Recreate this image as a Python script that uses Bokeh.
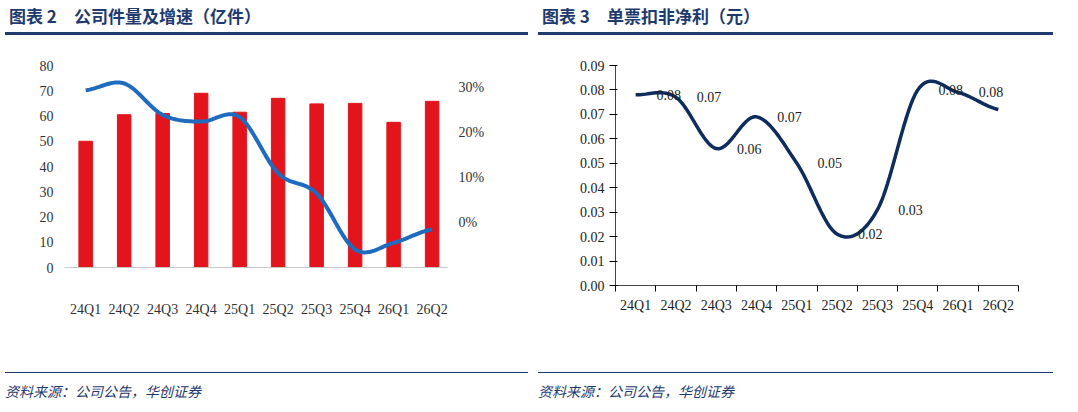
import numpy as np
from bokeh.plotting import figure
from bokeh.models import Range1d, LinearAxis, FixedTicker, Div, Legend, LegendItem, ColumnDataSource
from bokeh.layouts import row, column
from bokeh.embed import file_html
from bokeh.resources import INLINE

quarters = ["24Q1","24Q2","24Q3","24Q4","25Q1","25Q2","25Q3","25Q4","26Q1","26Q2"]
volume = [50, 60.5, 61, 69, 61.5, 67, 64.8, 65, 57.5, 65.8]
yoy = [29.5, 31, 24, 22.5, 23.5, 11, 6.5, -6, -4.5, -1.5]
profit = [0.078, 0.077, 0.056, 0.069, 0.050, 0.021, 0.031, 0.080, 0.079, 0.072]
profit_labels = ["0.08","0.07","0.06","0.07","0.05","0.02","0.03","0.08","0.08","0.07"]

SERIF = "Liberation Serif"
CJK = "Noto Sans CJK SC"
NAVY = "#1f3a6e"

def smooth(xs, ys, n=20):
    xs = np.asarray(xs, float); ys = np.asarray(ys, float)
    px = np.concatenate([[2*xs[0]-xs[1]], xs, [2*xs[-1]-xs[-2]]])
    py = np.concatenate([[ys[0]], ys, [ys[-1]]])
    ox, oy = [], []
    for i in range(1, len(px)-2):
        t = np.linspace(0, 1, n, endpoint=False)
        for arr, out in ((px, ox), (py, oy)):
            p0, p1, p2, p3 = arr[i-1], arr[i], arr[i+1], arr[i+2]
            out.extend(0.5*((2*p1) + (-p0+p2)*t + (2*p0-5*p1+4*p2-p3)*t**2 + (-p0+3*p1-3*p2+p3)*t**3))
    ox.append(xs[-1]); oy.append(ys[-1])
    return ox, oy

def header(txt, w):
    return Div(text=txt, width=w, height=30, styles={"font-family": CJK, "font-weight": "bold",
        "font-size": "17px", "color": NAVY, "border-bottom": "3px solid " + NAVY,
        "width": f"{w-12}px", "padding-left": "4px", "line-height": "22px"})

def footer(w):
    return Div(text="资料来源：公司公告，华创证券", width=w, height=30, styles={"font-family": CJK,
        "font-style": "italic", "font-size": "14px", "color": NAVY, "border-top": "1px solid " + NAVY,
        "width": f"{w-12}px", "padding-top": "8px"})

# ---- left chart
xi = list(range(len(quarters)))
p1 = figure(frame_width=383, frame_height=202, output_backend="svg", toolbar_location=None,
            x_range=Range1d(-0.55, 9.4), y_range=Range1d(0, 80),
            min_border_left=64, min_border_right=77, min_border_top=25, min_border_bottom=100)
p1.extra_y_ranges = {"r": Range1d(-10, 35)}
p1.outline_line_color = None
p1.grid.visible = False
bars = p1.vbar(x=xi, top=volume, width=0.35, color="#e3141c")
sx, sy = smooth(xi, yoy)
ln = p1.line(sx, sy, y_range_name="r", line_width=4, color="#1f6cbf")
ra = LinearAxis(y_range_name="r", ticker=FixedTicker(ticks=list(range(-10, 36, 5))))
ra.major_label_overrides = {v: f"{v}%" for v in range(-10, 36, 5)}
p1.add_layout(ra, "right")
p1.yaxis.ticker = FixedTicker(ticks=list(range(0, 81, 10)))
p1.xaxis.ticker = FixedTicker(ticks=xi)
p1.xaxis.major_label_overrides = {i: q for i, q in enumerate(quarters)}
p1.xaxis.major_label_standoff = 28
p1.xaxis.axis_line_color = "#c8c8c8"
p1.xaxis.major_tick_line_color = None
p1.xaxis.minor_tick_line_color = None
for ax in p1.yaxis:
    ax.axis_line_color = None; ax.major_tick_line_color = None; ax.minor_tick_line_color = None
for ax in p1.axis:
    ax.major_label_text_font = SERIF; ax.major_label_text_font_size = "14px"
    ax.major_label_text_color = "#333333"
lg = Legend(items=[LegendItem(label="快递业务量（亿件）", renderers=[bars]), LegendItem(label="yoy", renderers=[ln])],
            orientation="horizontal", border_line_color=None, background_fill_alpha=0,
            label_text_font=CJK, label_text_font_size="13px", location=(60, -88),
            spacing=30, glyph_width=40)
p1.add_layout(lg, "center")

# ---- right chart
p2 = figure(frame_width=403, frame_height=220, output_backend="svg", toolbar_location=None,
            x_range=Range1d(-0.5, 9.5), y_range=Range1d(0, 0.09),
            min_border_left=82, min_border_right=42, min_border_top=25, min_border_bottom=82)
p2.outline_line_color = None
p2.grid.visible = False
sx2, sy2 = smooth(xi, profit)
ln2 = p2.line(sx2, sy2, line_width=3.5, color="#0e2c5c")
src = ColumnDataSource(dict(x=xi, y=profit, t=profit_labels))
p2.text("x", "y", text="t", source=src, x_offset=33, text_align="center", text_baseline="middle",
        text_font_size="14px", text_font=SERIF, text_color="#222222")
p2.yaxis.ticker = FixedTicker(ticks=[i/100 for i in range(10)])
p2.yaxis.major_label_overrides = {i/100: f"{i/100:.2f}" for i in range(10)}
p2.xaxis.ticker = FixedTicker(ticks=xi, minor_ticks=[i-0.5 for i in range(11)])
p2.xaxis.major_label_overrides = {i: q for i, q in enumerate(quarters)}
p2.xaxis.major_tick_line_color = None
p2.xaxis.minor_tick_out = 6
p2.xaxis.minor_tick_in = 0
p2.xaxis.major_label_standoff = 6
p2.yaxis.minor_tick_line_color = None
p2.yaxis.major_tick_out = 6
for ax in p2.axis:
    ax.axis_line_color = "#444444"
    ax.major_label_text_font = SERIF; ax.major_label_text_font_size = "14px"
    ax.major_label_text_color = "#222222"
lg2 = Legend(items=[LegendItem(label="单票扣非净利（元）", renderers=[ln2])], orientation="horizontal",
             border_line_color=None, background_fill_alpha=0, label_text_font=CJK,
             label_text_font_size="13px", location=(95, -68), glyph_width=40)
p2.add_layout(lg2, "center")

left = column(header("图表 2　公司件量及增速（亿件）", 535), p1, footer(535), spacing=0)
right = column(header("图表 3　单票扣非净利（元）", 527), p2, footer(527), spacing=0)
page = row(left, right, spacing=0)
open("out.html", "w").write(file_html(page, INLINE))
